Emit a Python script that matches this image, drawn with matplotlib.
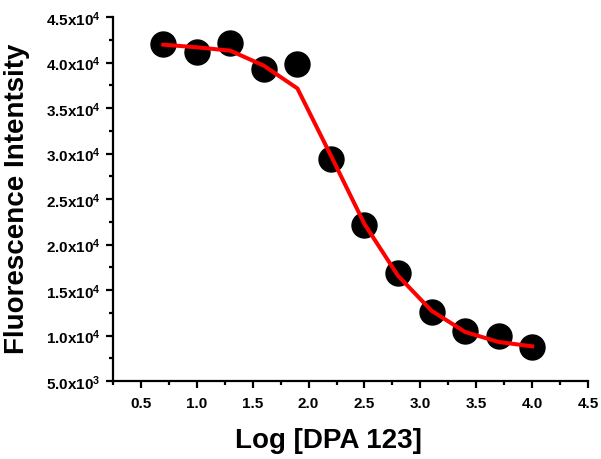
import matplotlib
matplotlib.use("Agg")
import matplotlib.pyplot as plt
from matplotlib.ticker import MultipleLocator

plt.rcParams['font.family'] = ['Liberation Sans', 'DejaVu Sans']
plt.rcParams['font.weight'] = 'bold'
plt.rcParams['mathtext.fontset'] = 'custom'
plt.rcParams['mathtext.rm'] = 'Liberation Sans:bold'
plt.rcParams['mathtext.bf'] = 'Liberation Sans:bold'
plt.rcParams['mathtext.it'] = 'Liberation Sans:bold'
plt.rcParams['mathtext.default'] = 'bf'

# data
log_conc = [0.7, 1.0, 1.3, 1.6, 1.9, 2.2, 2.5, 2.8, 3.1, 3.4, 3.7, 4.0]
intensity = [42030, 41190, 42140, 39290, 39840, 29400, 22180, 16870, 12550, 10530, 9980, 8700]
fit_curve = [41960, 41670, 41300, 39650, 37150, 29760, 22250, 16570, 12720, 10390, 9290, 8810]

y_ticks = [5000, 10000, 15000, 20000, 25000, 30000, 35000, 40000, 45000]
y_tick_labels = [r"5.0x10$^{3}$", r"1.0x10$^{4}$", r"1.5x10$^{4}$", r"2.0x10$^{4}$",
                 r"2.5x10$^{4}$", r"3.0x10$^{4}$", r"3.5x10$^{4}$", r"4.0x10$^{4}$",
                 r"4.5x10$^{4}$"]
x_ticks = [0.5, 1.0, 1.5, 2.0, 2.5, 3.0, 3.5, 4.0, 4.5]
x_tick_labels = ["0.5", "1.0", "1.5", "2.0", "2.5", "3.0", "3.5", "4.0", "4.5"]

W, H = 601, 460
fig = plt.figure(figsize=(W / 100, H / 100), dpi=100)
ax = fig.add_axes([113 / W, 78 / H, (588 - 113) / W, (382 - 18) / H])

ax.plot(log_conc, intensity, 'o', color='black', markersize=18, zorder=2, clip_on=False)
ax.plot(log_conc, fit_curve, '-', color='#ff0000', linewidth=2.9, zorder=3)

ax.set_xlim(0.25, 4.5)
ax.set_ylim(5000, 45000)
ax.set_xticks(x_ticks)
ax.set_xticklabels(x_tick_labels)
ax.set_yticks(y_ticks)
ax.set_yticklabels(y_tick_labels)
ax.xaxis.set_minor_locator(MultipleLocator(0.25))
ax.yaxis.set_minor_locator(MultipleLocator(2500))

for s in ['top', 'right']:
    ax.spines[s].set_visible(False)
for s in ['left', 'bottom']:
    ax.spines[s].set_linewidth(1.6)

ax.tick_params(which='major', direction='out', length=5, width=1.6, labelsize=11, pad=4)
ax.tick_params(which='minor', direction='out', length=3, width=1.6)
ax.tick_params(axis='x', which='major', pad=6)

ax.set_xlabel("Log [DPA 123]", fontsize=20, fontweight='bold')
ax.set_ylabel("Fluorescence Intentsity", fontsize=20, fontweight='bold')
ax.xaxis.label.set_va('center')
ax.yaxis.label.set_va('center')
ax.xaxis.set_label_coords((328 - 113) / 475, (382 - 441) / 364)
ax.yaxis.set_label_coords((17 - 113) / 475, (382 - 199) / 364)

fig.savefig("out.png", dpi=100, facecolor='white')
